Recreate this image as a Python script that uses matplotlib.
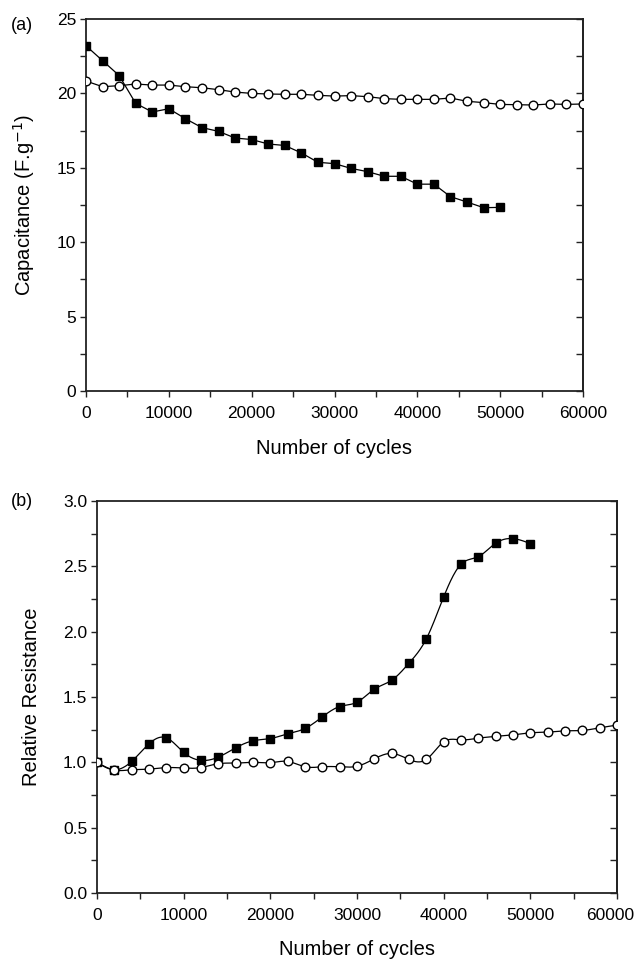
import numpy as np
import matplotlib
matplotlib.use("Agg")
import matplotlib.pyplot as plt
from matplotlib.ticker import MultipleLocator
from matplotlib.transforms import ScaledTranslation

plt.rcParams['font.family'] = ['Liberation Sans', 'DejaVu Sans']

# ---------------- data ----------------
cycles_sq_a = list(range(0, 50001, 2000))
cap_squares = [23.2, 22.2, 21.2, 19.33, 18.75, 18.97, 18.3, 17.7, 17.45, 17.0,
               16.9, 16.6, 16.5, 16.0, 15.37, 15.28, 14.96, 14.74, 14.43, 14.43,
               13.9, 13.9, 13.06, 12.7, 12.32, 12.34]
cycles_ci_a = list(range(0, 60001, 2000))
cap_circles = [20.83, 20.45, 20.52, 20.63, 20.56, 20.56, 20.45, 20.38, 20.25, 20.09,
               20.0, 19.96, 19.94, 19.94, 19.87, 19.82, 19.85, 19.78, 19.65, 19.6,
               19.6, 19.6, 19.69, 19.47, 19.38, 19.26, 19.24, 19.22, 19.29, 19.26,
               19.29]

cycles_sq_b = list(range(0, 50001, 2000))
res_squares = [1.0, 0.943, 1.007, 1.142, 1.188, 1.076, 1.015, 1.04, 1.111, 1.165,
               1.182, 1.218, 1.259, 1.348, 1.427, 1.46, 1.56, 1.628, 1.759, 1.945,
               2.266, 2.516, 2.574, 2.677, 2.712, 2.674]
cycles_ci_b = list(range(0, 60001, 2000))
res_circles = [1.0, 0.941, 0.943, 0.948, 0.96, 0.956, 0.96, 0.99, 0.994, 1.0,
               0.997, 1.007, 0.966, 0.966, 0.966, 0.97, 1.027, 1.068, 1.022, 1.022,
               1.157, 1.172, 1.185, 1.198, 1.21, 1.226, 1.231, 1.241, 1.244, 1.264,
               1.285]

xticks = [0, 10000, 20000, 30000, 40000, 50000, 60000]
yticks_a = [0, 5, 10, 15, 20, 25]
yticks_b = [0.0, 0.5, 1.0, 1.5, 2.0, 2.5, 3.0]


def natural_spline(x, y, n=20):
    """Smooth line through the data points (natural cubic spline) for drawing."""
    x = np.asarray(x, float)
    y = np.asarray(y, float)
    k = len(x)
    h = np.diff(x)
    A = np.zeros((k, k))
    b = np.zeros(k)
    A[0, 0] = A[-1, -1] = 1.0
    for i in range(1, k - 1):
        A[i, i - 1] = h[i - 1]
        A[i, i] = 2 * (h[i - 1] + h[i])
        A[i, i + 1] = h[i]
        b[i] = 3 * ((y[i + 1] - y[i]) / h[i] - (y[i] - y[i - 1]) / h[i - 1])
    c = np.linalg.solve(A, b)
    xs, ys = [], []
    for i in range(k - 1):
        t = np.linspace(0, h[i], n, endpoint=False)
        bi = (y[i + 1] - y[i]) / h[i] - h[i] * (2 * c[i] + c[i + 1]) / 3
        di = (c[i + 1] - c[i]) / (3 * h[i])
        xs.append(x[i] + t)
        ys.append(y[i] + bi * t + c[i] * t ** 2 + di * t ** 3)
    xs.append([x[-1]])
    ys.append([y[-1]])
    return np.concatenate(xs), np.concatenate(ys)


fig = plt.figure(figsize=(6.4, 9.6), dpi=100)

tick_fs = 12.5
label_fs = 14.5
lw = 0.9
ms = 6.2


def style(ax):
    for s in ax.spines.values():
        s.set_linewidth(1.3)
        s.set_color('#222222')
    ax.tick_params(axis='both', which='both', labelsize=tick_fs, width=1.0,
                   length=4, color='#222222')
    ax.tick_params(axis='x', which='both', direction='out', top=False, bottom=True, pad=7)
    ax.tick_params(axis='y', which='both', direction='out', left=True, right=False, pad=3)
    ax.xaxis.set_minor_locator(MultipleLocator(5000))
    # right-side inward ticks
    sec = ax.secondary_yaxis('right')
    sec.tick_params(axis='y', which='both', direction='in', length=5, width=1.0,
                    labelright=False, color='#222222')
    sec.set_yticks(ax.get_yticks())
    sec.yaxis.set_minor_locator(ax.yaxis.get_minor_locator())
    sec.spines['right'].set_linewidth(1.3)
    sec.spines['right'].set_color('#222222')
    return sec


# ---------------- panel (a) ----------------
ax1 = fig.add_axes([86 / 640, 1 - 391 / 960, 497 / 640, 372 / 960])
ax1.plot(cycles_ci_a, cap_circles, '-', color='black', lw=lw, marker='o', ms=ms,
         mfc='white', mec='black', mew=1.0, zorder=3)
ax1.plot(cycles_sq_a, cap_squares, '-', color='black', lw=lw, marker='s', ms=ms,
         mfc='black', mec='black', zorder=4)
ax1.set_xlim(0, 60000)
ax1.set_ylim(0, 25)
ax1.set_xticks(xticks)
ax1.set_yticks(yticks_a)
ax1.yaxis.set_minor_locator(MultipleLocator(2.5))
style(ax1)
ax1.set_xlabel('Number of cycles', fontsize=label_fs, labelpad=13)
ax1.set_ylabel('Capacitance (F.g$^{-1}$)', fontsize=label_fs, labelpad=14)
fig.text(22 / 640, 1 - 25 / 960, '(a)', fontsize=13, ha='center', va='center')

# ---------------- panel (b) ----------------
ax2 = fig.add_axes([97 / 640, 1 - 893 / 960, 520 / 640, 392 / 960])
xs, ys = natural_spline(cycles_sq_b, res_squares)
ax2.plot(xs, ys, '-', color='black', lw=lw, zorder=2)
ax2.plot(cycles_sq_b, res_squares, 's', ms=ms, mfc='black', mec='black', zorder=3)
xc, yc = natural_spline(cycles_ci_b, res_circles)
ax2.plot(xc, yc, '-', color='black', lw=lw, zorder=4)
ax2.plot(cycles_ci_b, res_circles, 'o', ms=ms, mfc='white', mec='black', mew=1.0, zorder=5)
ax2.set_xlim(0, 60000)
ax2.set_ylim(0, 3.0)
ax2.set_xticks(xticks)
ax2.set_yticks(yticks_b)
ax2.yaxis.set_minor_locator(MultipleLocator(0.25))
ax2.set_yticklabels([f'{v:.1f}' for v in yticks_b])
style(ax2)
ax2.set_xlabel('Number of cycles', fontsize=label_fs, labelpad=12)
ax2.set_ylabel('Relative Resistance', fontsize=label_fs, labelpad=16)
fig.text(22 / 640, 1 - 501 / 960, '(b)', fontsize=13, ha='center', va='center')

# keep the last x tick label of panel (b) inside the figure, as in the reference
fig.canvas.draw()
last = ax2.get_xticklabels()[-1]
last.set_transform(last.get_transform() + ScaledTranslation(-7 / 100, 0, fig.dpi_scale_trans))

fig.savefig('out.png', dpi=100)
